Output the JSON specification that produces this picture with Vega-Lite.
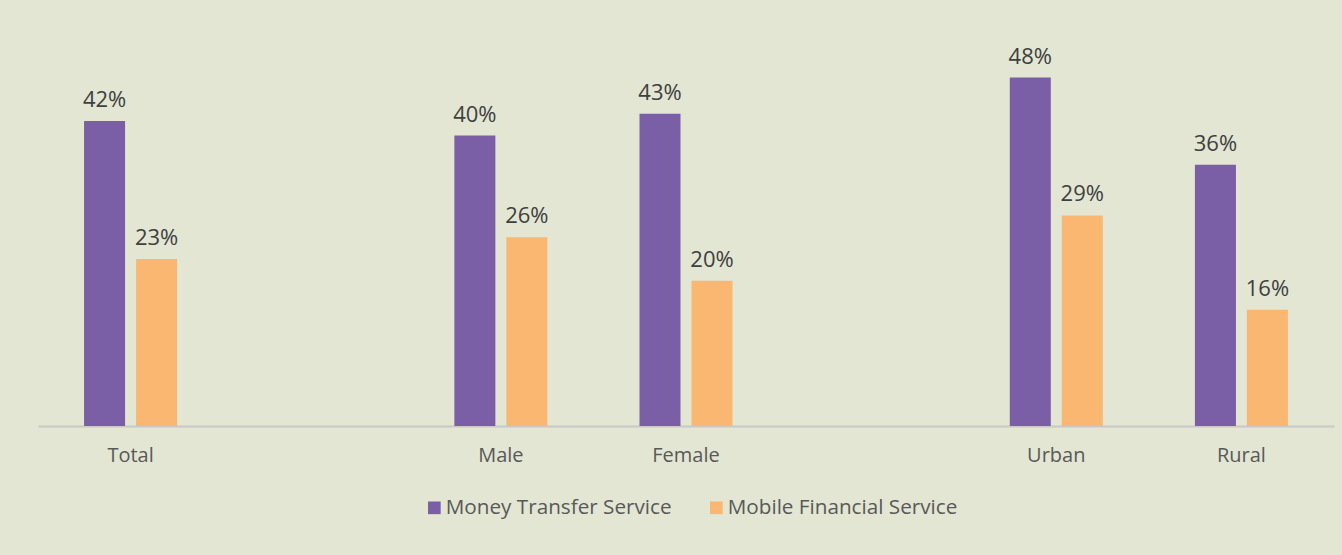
{
  "$schema": "https://vega.github.io/schema/vega-lite/v6.json",
  "autosize": "none",
  "width": 1296,
  "height": 363,
  "padding": {"left": 38, "top": 63, "right": 8, "bottom": 129},
  "background": "#e2e6d3",
  "config": {
    "view": {"stroke": null},
    "font": "Open Sans"
  },
  "data": {
    "values": [
      {"group": "Total", "series": "Money Transfer Service", "value": 0.42},
      {"group": "Total", "series": "Mobile Financial Service", "value": 0.23},
      {"group": "Male", "series": "Money Transfer Service", "value": 0.40},
      {"group": "Male", "series": "Mobile Financial Service", "value": 0.26},
      {"group": "Female", "series": "Money Transfer Service", "value": 0.43},
      {"group": "Female", "series": "Mobile Financial Service", "value": 0.20},
      {"group": "Urban", "series": "Money Transfer Service", "value": 0.48},
      {"group": "Urban", "series": "Mobile Financial Service", "value": 0.29},
      {"group": "Rural", "series": "Money Transfer Service", "value": 0.36},
      {"group": "Rural", "series": "Mobile Financial Service", "value": 0.16}
    ]
  },
  "encoding": {
    "x": {
      "field": "group",
      "type": "nominal",
      "sort": null,
      "scale": {
        "domain": ["Total", "gap1", "Male", "Female", "gap2", "Urban", "Rural"],
        "paddingInner": 0,
        "paddingOuter": 0
      },
      "axis": {
        "title": null,
        "labelAngle": 0,
        "labelExpr": "indexof(datum.value, 'gap') === 0 ? '' : datum.value",
        "ticks": false,
        "domainColor": "#c8c8c8",
        "domainWidth": 2,
        "labelFontSize": 20,
        "labelColor": "#595959",
        "labelPadding": 19,
        "grid": false
      }
    },
    "xOffset": {
      "field": "series",
      "type": "nominal",
      "sort": ["Money Transfer Service", "Mobile Financial Service"],
      "scale": {"paddingInner": 0.2115, "paddingOuter": 0.886}
    },
    "y": {
      "field": "value",
      "type": "quantitative",
      "scale": {"domain": [0, 0.5], "nice": false},
      "axis": null
    }
  },
  "layer": [
    {
      "mark": {"type": "bar"},
      "encoding": {
        "color": {
          "field": "series",
          "type": "nominal",
          "sort": ["Money Transfer Service", "Mobile Financial Service"],
          "scale": {
            "domain": ["Money Transfer Service", "Mobile Financial Service"],
            "range": ["#7a5ea6", "#f9b772"]
          },
          "legend": {
            "title": null,
            "orient": "none",
            "direction": "horizontal",
            "legendX": 386,
            "legendY": 434,
            "symbolType": "square",
            "symbolSize": 160,
            "symbolStrokeWidth": 0,
            "labelFontSize": 20.7,
            "labelColor": "#595959",
            "labelOffset": 1,
            "columnPadding": 34,
            "labelLimit": 400
          }
        }
      }
    },
    {
      "mark": {
        "type": "text",
        "baseline": "alphabetic",
        "dy": -14,
        "fontSize": 22,
        "color": "#404040"
      },
      "encoding": {
        "text": {"field": "value", "type": "quantitative", "format": ".0%"}
      }
    }
  ]
}
